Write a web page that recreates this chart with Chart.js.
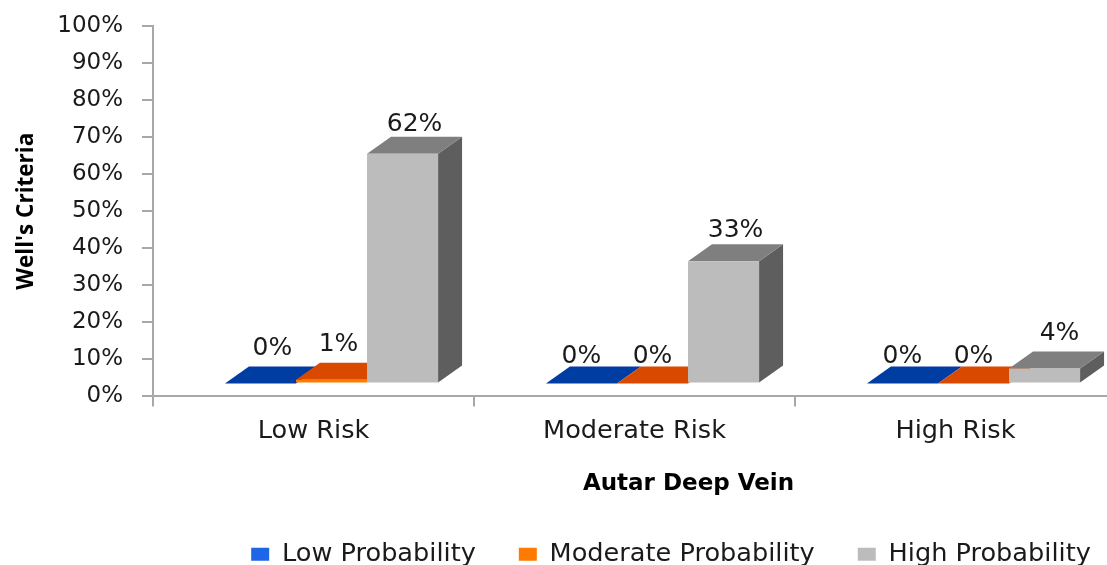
<!DOCTYPE html>
<html>
<head>
<meta charset="utf-8">
<title>Well's Criteria</title>
<script src="https://cdn.jsdelivr.net/npm/chart.js@4"></script>
<style>
  html, body { margin:0; padding:0; background:#fff; overflow:hidden; }
  #wrap { width:1107px; height:565px; overflow:hidden; }
  canvas { display:block; }
</style>
</head>
<body>
<div id="wrap"><canvas id="chart" width="1120" height="565"></canvas></div>
<script>
const categories = ['Low Risk', 'Moderate Risk', 'High Risk'];
const seriesNames = ['Low Probability', 'Moderate Probability', 'High Probability'];
const lowProbability = [0, 0, 0];
const moderateProbability = [1, 0, 0];
const highProbability = [62, 33, 4];

const frontColors = ['#1f65e8', '#ff7a00', '#bcbcbc'];
const topColors = ['#003da3', '#d94a00', '#7f7f7f'];
const sideColors = ['#00287a', '#a33700', '#5e5e5e'];

const FONT = '"DejaVu Sans", sans-serif';
const DEPTH_X = 24, DEPTH_Y = 17;
const SHIFT_X = 18, SHIFT_Y = -13;
// where each value label sits relative to its bar, per series then category
const labelNudge = [
  [[12, -35], [0, -27], [0, -27]],
  [[7, -35], [0, -27], [0, -27]],
  [[12, -29], [12, -31], [15, -35]]
];

function poly(ctx, pts, color){
  ctx.fillStyle = color;
  ctx.beginPath();
  pts.forEach((p, i) => i ? ctx.lineTo(p[0], p[1]) : ctx.moveTo(p[0], p[1]));
  ctx.closePath();
  ctx.fill();
}

// bars sit on a floor above the axis line, with a top and side face like a 3D column
const bars3d = {
  id: 'bars3d',
  beforeDatasetsDraw(chart){
    const ctx = chart.ctx;
    ctx.save();
    ctx.translate(SHIFT_X, SHIFT_Y);
    chart.data.datasets.forEach((ds, d) => {
      chart.getDatasetMeta(d).data.forEach(bar => {
        const { x, y, base, width } = bar.getProps(['x', 'y', 'base', 'width'], true);
        const l = x - width / 2, r = x + width / 2;
        if (d === 2) poly(ctx, [[r, base], [r, y], [r + DEPTH_X, y - DEPTH_Y], [r + DEPTH_X, base - DEPTH_Y]], sideColors[d]);
        poly(ctx, [[l, y], [r, y], [r + DEPTH_X, y - DEPTH_Y], [l + DEPTH_X, y - DEPTH_Y]], topColors[d]);
      });
    });
  },
  afterDatasetsDraw(chart){
    const ctx = chart.ctx;
    ctx.fillStyle = '#1a1a1a';
    ctx.font = '25px ' + FONT;
    ctx.textAlign = 'center';
    ctx.textBaseline = 'middle';
    chart.data.datasets.forEach((ds, d) => {
      chart.getDatasetMeta(d).data.forEach((bar, i) => {
        const { x, y } = bar.getProps(['x', 'y'], true);
        const [dx, dy] = labelNudge[d][i];
        ctx.fillText(ds.data[i] + '%', x + dx, y + dy);
      });
    });
    ctx.restore();
  }
};

// legend and x title sit right of centre in the original
const offCentre = {
  id: 'offCentre',
  afterLayout(chart){
    const legend = chart.legend, x = chart.scales.x;
    legend.left += 113;
    legend.right += 113;
    legend.top += 12;
    legend.bottom += 12;
    const drawTitle = x.drawTitle;
    x.drawTitle = function(){
      chart.ctx.save();
      chart.ctx.translate(54, 11);
      drawTitle.call(x);
      chart.ctx.restore();
    };
  }
};

new Chart(document.getElementById('chart'), {
  type: 'bar',
  data: {
    labels: categories,
    datasets: [lowProbability, moderateProbability, highProbability].map((data, i) => ({
      label: seriesNames[i],
      data,
      backgroundColor: frontColors[i],
      borderWidth: 0
    }))
  },
  plugins: [bars3d, offCentre],
  options: {
    responsive: false,
    animation: false,
    layout: { padding: { top: 26, right: 4, left: 0, bottom: 0 } },
    categoryPercentage: 0.664,
    barPercentage: 1,
    scales: {
      x: {
        afterFit(s){ s.height = 90; },
        grid: { drawOnChartArea: false, color: '#a8a8a8', lineWidth: 2, tickLength: 10, offset: true },
        border: { color: '#a8a8a8', width: 2 },
        ticks: { color: '#1a1a1a', font: { family: FONT, size: 25.6 }, padding: 10, maxRotation: 0 },
        title: { display: true, text: 'Autar Deep Vein', color: '#000', font: { family: FONT, size: 23, weight: 'bold' }, padding: { top: 14, bottom: 0 } }
      },
      y: {
        min: 0, max: 100,
        afterFit(s){ s.width = 153; s.paddingTop = 0; },
        grid: { drawOnChartArea: false, color: '#a8a8a8', lineWidth: 2, tickLength: 11 },
        border: { color: '#a8a8a8', width: 2 },
        ticks: { stepSize: 10, color: '#1a1a1a', font: { family: FONT, size: 23 }, padding: 19, callback: v => v + '%' },
        title: { display: true, text: "Well's Criteria", color: '#000', font: { family: '"Open Sans", sans-serif', size: 22.5, weight: 'bold' }, padding: { top: 13, bottom: 0 } }
      }
    },
    plugins: {
      legend: {
        position: 'bottom',
        labels: { boxWidth: 18, boxHeight: 13, padding: 43, color: '#1a1a1a', font: { family: FONT, size: 25.6 } }
      },
      tooltip: { enabled: false }
    }
  }
});
</script>
</body>
</html>
